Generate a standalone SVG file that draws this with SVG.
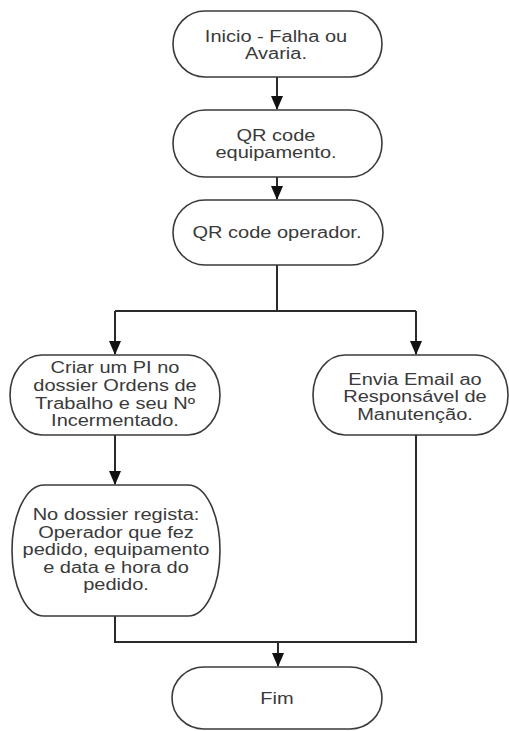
<svg xmlns="http://www.w3.org/2000/svg" width="509" height="731" viewBox="0 0 509 731">
  <style>
    .node { fill: #ffffff; stroke: #3a3a3a; stroke-width: 1.6; }
    .edge { fill: none; stroke: #2a2a2a; stroke-width: 2; }
    .arrow { marker-end: url(#arrow); }
    .label { font-family: "Liberation Sans", Arial, sans-serif; font-size: 16px; fill: #3a3a3a; text-anchor: middle; }
  </style>
  <defs>
    <!-- filled triangular head, tip at the end of the line -->
    <marker id="arrow" viewBox="0 0 14 12" refX="13" refY="6" markerWidth="14" markerHeight="12" markerUnits="userSpaceOnUse" orient="auto">
      <path d="M0,0 L14,6 L0,12 Z" fill="#111111"/>
    </marker>
  </defs>
  <rect width="509" height="731" fill="#ffffff"/>

  <!-- connectors -->
  <g id="connectors">
    <path class="edge arrow" d="M277,77 V109"/>
    <path class="edge arrow" d="M277,177 V199"/>
    <path class="edge" d="M277,265 V311 M115,311 H416"/>
    <path class="edge arrow" d="M115,311 V354"/>
    <path class="edge arrow" d="M416,311 V354"/>
    <path class="edge arrow" d="M115,435 V484"/>
    <path class="edge" d="M115,616 V642 H416 V435"/>
    <path class="edge arrow" d="M278,642 V666"/>
  </g>

  <g id="inicio">
    <rect class="node" x="173" y="11" width="209" height="66" rx="32" ry="33"/>
    <g transform="translate(276 0) scale(1.25 1)">
      <text class="label" x="0" y="42.5">Inicio - Falha ou</text>
      <text class="label" x="0" y="59">Avaria.</text>
    </g>
  </g>

  <g id="qr-equipamento">
    <rect class="node" x="173" y="110" width="209" height="67" rx="32" ry="33.5"/>
    <g transform="translate(276 0) scale(1.25 1)">
      <text class="label" x="0" y="141">QR code</text>
      <text class="label" x="0" y="158">equipamento.</text>
    </g>
  </g>

  <g id="qr-operador">
    <rect class="node" x="173" y="200" width="210" height="65" rx="32" ry="32.5"/>
    <g transform="translate(277 0) scale(1.25 1)">
      <text class="label" x="0" y="238">QR code operador.</text>
    </g>
  </g>

  <g id="criar-pi">
    <rect class="node" x="10" y="355" width="210" height="80" rx="32" ry="40"/>
    <g transform="translate(115 0) scale(1.25 1)">
      <text class="label" x="0" y="373.5">Criar um PI no</text>
      <text class="label" x="0" y="391">dossier Ordens de</text>
      <text class="label" x="0" y="408.5">Trabalho e seu Nº</text>
      <text class="label" x="0" y="426">Incermentado.</text>
    </g>
  </g>

  <g id="envia-email">
    <rect class="node" x="313" y="355" width="195" height="80" rx="32" ry="40"/>
    <g transform="translate(415 0) scale(1.25 1)">
      <text class="label" x="0" y="385">Envia Email ao</text>
      <text class="label" x="0" y="402.5">Responsável de</text>
      <text class="label" x="0" y="420">Manutenção.</text>
    </g>
  </g>

  <g id="regista">
    <rect class="node" x="12" y="485" width="208" height="131" rx="32" ry="65.5"/>
    <g transform="translate(116 0) scale(1.25 1)">
      <text class="label" x="0" y="520.5">No dossier regista:</text>
      <text class="label" x="0" y="538">Operador que fez</text>
      <text class="label" x="0" y="555.5">pedido, equipamento</text>
      <text class="label" x="0" y="573">e data e hora do</text>
      <text class="label" x="0" y="590.5">pedido.</text>
    </g>
  </g>

  <g id="fim">
    <rect class="node" x="172" y="667" width="210" height="62" rx="32" ry="31"/>
    <g transform="translate(277 0) scale(1.25 1)">
      <text class="label" x="0" y="704">Fim</text>
    </g>
  </g>
</svg>
